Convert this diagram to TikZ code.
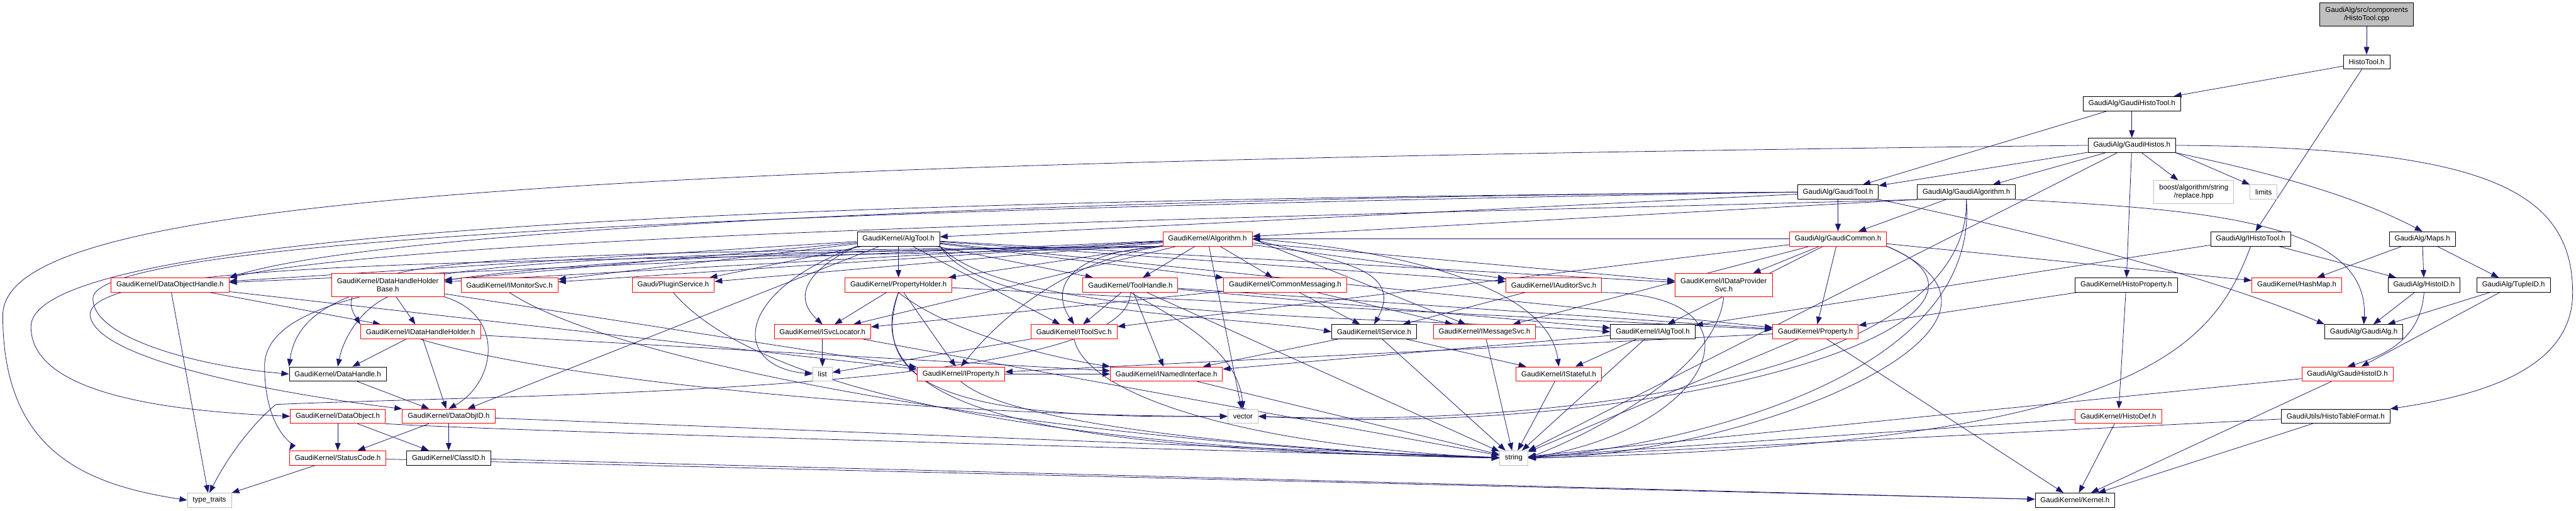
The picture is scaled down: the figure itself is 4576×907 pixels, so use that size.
\documentclass[tikz,border=0pt]{standalone}
\usepackage{fontspec}
\setmainfont{Liberation Sans}
\usetikzlibrary{arrows.meta,backgrounds}
\definecolor{edgec}{HTML}{191970}
\definecolor{sysgray}{HTML}{BFBFBF}
\definecolor{cutred}{HTML}{FF0000}
\tikzset{
  hdr/.style={draw=black, fill=white, line width=0.55pt, inner xsep=1.9mm,
              inner ysep=0.4mm, minimum height=5.1mm, align=center,
              font=\fontsize{7.3}{8.4}\selectfont},
  cuthdr/.style={hdr, draw=cutred},
  syshdr/.style={hdr, draw=sysgray},
  roothdr/.style={hdr, fill=sysgray},
  twoline/.style={minimum height=8.2mm},
  inc/.style={draw=edgec, line width=0.5pt, -{Triangle[length=2.7mm,width=2mm]}},
}

\begin{document}
\begin{tikzpicture}[x=0.2mm, y=-0.2mm]
\useasboundingbox (0,0) rectangle (4576,907);

\node[roothdr, twoline] (cpp) at (4204,26) {GaudiAlg/src/components\\/HistoTool.cpp};
\node[hdr] (htool) at (4204,110) {HistoTool.h};
\node[hdr] (ghtool) at (3787,184) {GaudiAlg/GaudiHistoTool.h};
\node[hdr] (ghistos) at (3787,258) {GaudiAlg/GaudiHistos.h};
\node[hdr] (gtool) at (3265,341) {GaudiAlg/GaudiTool.h};
\node[hdr] (galgo) at (3493,341) {GaudiAlg/GaudiAlgorithm.h};
\node[syshdr, twoline] (boost) at (3897,341) {boost/algorithm/string\\/replace.hpp};
\node[syshdr] (limits) at (4021,341) {limits};
\node[hdr] (algtool) at (1596,424) {GaudiKernel/AlgTool.h};
\node[cuthdr] (algorithm) at (2145,424) {GaudiKernel/Algorithm.h};
\node[cuthdr] (gcommon) at (3265,424) {GaudiAlg/GaudiCommon.h};
\node[hdr] (ihtool) at (3998,424) {GaudiAlg/IHistoTool.h};
\node[hdr] (maps) at (4303,424) {GaudiAlg/Maps.h};
\node[cuthdr] (doh) at (302,506) {GaudiKernel/DataObjectHandle.h};
\node[cuthdr, twoline] (dhhb) at (689,506) {GaudiKernel/DataHandleHolder\\Base.h};
\node[cuthdr] (imon) at (905,506) {GaudiKernel/IMonitorSvc.h};
\node[cuthdr] (plugin) at (1196,506) {Gaudi/PluginService.h};
\node[cuthdr] (pholder) at (1596,506) {GaudiKernel/PropertyHolder.h};
\node[cuthdr] (thandle) at (2008,506) {GaudiKernel/ToolHandle.h};
\node[cuthdr] (cmsg) at (2283,506) {GaudiKernel/CommonMessaging.h};
\node[cuthdr] (iaud) at (2760,506) {GaudiKernel/IAuditorSvc.h};
\node[cuthdr, twoline] (idp) at (3062,506) {GaudiKernel/IDataProvider\\Svc.h};
\node[hdr] (hprop) at (3777,506) {GaudiKernel/HistoProperty.h};
\node[cuthdr] (hashmap) at (4080,506) {GaudiKernel/HashMap.h};
\node[hdr] (histoid) at (4306,506) {GaudiAlg/HistoID.h};
\node[hdr] (tupleid) at (4465,506) {GaudiAlg/TupleID.h};
\node[cuthdr] (idhh) at (747,589) {GaudiKernel/IDataHandleHolder.h};
\node[cuthdr] (isvcloc) at (1461,589) {GaudiKernel/ISvcLocator.h};
\node[cuthdr] (itoolsvc) at (1908,589) {GaudiKernel/IToolSvc.h};
\node[hdr] (iservice) at (2441,589) {GaudiKernel/IService.h};
\node[cuthdr] (imsg) at (2637,589) {GaudiKernel/IMessageSvc.h};
\node[hdr] (ialgtool) at (2936,589) {GaudiKernel/IAlgTool.h};
\node[cuthdr] (prop) at (3225,589) {GaudiKernel/Property.h};
\node[hdr] (galg) at (4199,589) {GaudiAlg/GaudiAlg.h};
\node[hdr] (dhandle) at (600,664) {GaudiKernel/DataHandle.h};
\node[syshdr] (list) at (1461,664) {list};
\node[cuthdr] (iprop) at (1707,664) {GaudiKernel/IProperty.h};
\node[cuthdr] (iname) at (2072,664) {GaudiKernel/INamedInterface.h};
\node[cuthdr] (istate) at (2769,664) {GaudiKernel/IStateful.h};
\node[cuthdr] (ghid) at (4170,664) {GaudiAlg/GaudiHistoID.h};
\node[cuthdr] (dobj) at (600,739) {GaudiKernel/DataObject.h};
\node[cuthdr] (doid) at (797,739) {GaudiKernel/DataObjID.h};
\node[syshdr] (vector) at (2208,739) {vector};
\node[cuthdr] (hdef) at (3763,739) {GaudiKernel/HistoDef.h};
\node[hdr] (htf) at (4149,739) {GaudiUtils/HistoTableFormat.h};
\node[cuthdr] (sc) at (600,813) {GaudiKernel/StatusCode.h};
\node[hdr] (clid) at (797,813) {GaudiKernel/ClassID.h};
\node[syshdr] (string) at (2689,813) {string};
\node[syshdr] (ttraits) at (372,888) {type\_traits};
\node[hdr] (kernel) at (3686,888) {GaudiKernel/Kernel.h};

\coordinate (ttbend) at (5,560);
\coordinate (dobend) at (55,580);
\coordinate (dibend) at (160,560);
\coordinate (dhbend) at (165,530);
\coordinate (tfbend) at (4570,520);
\coordinate (scbend) at (470,650);
\coordinate (thbend) at (490,718);

\begin{scope}[on background layer]
\draw[inc] (cpp) -- (htool);
\draw[inc] (htool) -- (ghtool);
\draw[inc] (htool) -- (ihtool);
\draw[inc] (ghtool) -- (ghistos);
\draw[inc] (ghtool) -- (gtool);
\draw[inc] (ghistos) -- (gtool);
\draw[inc] (ghistos) -- (galgo);
\draw[inc] (ghistos) -- (boost);
\draw[inc] (ghistos.south east) -- (limits.north west);
\draw[inc] (ghistos.south east) .. controls (3950,290) and (4150,330) .. (maps.north);
\draw[inc] (ghistos) -- (hprop);
\draw[inc] (ghistos) -- (string);
\draw[inc] (ghistos.east) .. controls (4400,262) and (4570,330) .. (tfbend) .. controls (4570,650) and (4420,700) .. (htf.north east);
\draw[inc] (ghistos.west) .. controls (900,290) and (5,360) .. (ttbend) .. controls (5,800) and (150,860) .. (ttraits.west);

\draw[inc] (gtool) -- (algtool);
\draw[inc] (gtool) -- (gcommon);
\draw[inc] (gtool.west) .. controls (2000,350) and (700,400) .. (doh.north east);
\draw[inc] (gtool.west) .. controls (1500,355) and (55,400) .. (dobend) .. controls (55,700) and (300,730) .. (dobj.west);
\draw[inc] (gtool.west) .. controls (1500,370) and (165,420) .. (dhbend) .. controls (165,600) and (350,650) .. (dhandle.west);
\draw[inc] (gtool.south east) .. controls (3750,440) and (4000,520) .. (galg.north west);

\draw[inc] (galgo.south west) -- (algorithm);
\draw[inc] (galgo) -- (gcommon);
\draw[inc] (galgo.south west) .. controls (2500,380) and (800,410) .. (doh.north east);
\draw[inc] (galgo.south east) .. controls (3900,372) and (4210,390) .. (galg.north);
\draw[inc] (galgo.south) .. controls (3500,660) and (2800,760) .. (vector.east);
\draw[inc] (galgo.south) .. controls (3520,700) and (2900,800) .. (string.east);

\draw[inc] (gcommon) -- (algorithm);
\draw[inc] (gcommon) -- (idp);
\draw[inc] (gcommon) -- (prop);
\draw[inc] (gcommon) -- (hashmap);
\draw[inc] (gcommon) -- (itoolsvc);
\draw[inc] (gcommon) -- (imsg);
\draw[inc] (gcommon) -- (ialgtool);
\draw[inc] (gcommon.south east) .. controls (3650,560) and (3000,780) .. (vector.east);
\draw[inc] (gcommon.south east) .. controls (3680,580) and (3100,810) .. (string.east);

\draw[inc] (ihtool) -- (ialgtool);
\draw[inc] (ihtool) -- (histoid);
\draw[inc] (ihtool.south) .. controls (3930,620) and (3800,790) .. (string.east);
\draw[inc] (maps) -- (hashmap);
\draw[inc] (maps) -- (histoid);
\draw[inc] (maps) -- (tupleid);

\draw[inc] (algtool) -- (doh);
\draw[inc] (algtool) -- (dhhb);
\draw[inc] (algtool) -- (imon);
\draw[inc] (algtool) -- (plugin);
\draw[inc] (algtool) -- (pholder);
\draw[inc] (algtool) -- (thandle);
\draw[inc] (algtool) -- (cmsg);
\draw[inc] (algtool) -- (iaud);
\draw[inc] (algtool) -- (idp);
\draw[inc] (algtool) -- (itoolsvc);
\draw[inc] (algtool) -- (doid);
\draw[inc] (algtool) -- (prop);
\draw[inc] (algtool.south west) .. controls (1450,470) and (1400,520) .. (isvcloc.north);
\draw[inc] (algtool.south west) .. controls (1300,520) and (1300,650) .. (list.west);
\draw[inc] (algtool.south east) .. controls (1750,560) and (2200,560) .. (iservice.west);
\draw[inc] (algtool.south east) .. controls (1800,575) and (2500,560) .. (ialgtool.west);

\draw[inc] (algorithm) -- (doh);
\draw[inc] (algorithm) -- (dhhb);
\draw[inc] (algorithm) -- (imon);
\draw[inc] (algorithm) -- (plugin);
\draw[inc] (algorithm) -- (pholder);
\draw[inc] (algorithm) -- (thandle);
\draw[inc] (algorithm) -- (cmsg);
\draw[inc] (algorithm) -- (iaud);
\draw[inc] (algorithm) -- (idp);
\draw[inc] (algorithm) -- (isvcloc);
\draw[inc] (algorithm.east) -- (imsg);
\draw[inc] (algorithm) -- (vector);
\draw[inc] (algorithm.south west) .. controls (1880,450) and (1870,520) .. (itoolsvc.north);
\draw[inc] (algorithm.south west) .. controls (1900,460) and (1780,560) .. (iprop.north);
\draw[inc] (algorithm.east) .. controls (2350,462) and (2500,470) .. (iservice.north);
\draw[inc] (algorithm.east) .. controls (2450,440) and (2750,500) .. (istate.north);
\draw[inc] (algorithm.south west) .. controls (900,450) and (560,450) .. (idhh.north west);
\draw[inc] (algorithm.south west) .. controls (900,455) and (540,460) .. (dhandle.north west);
\draw[inc] (algorithm.south west) .. controls (1200,470) and (150,445) .. (dibend) .. controls (170,640) and (500,700) .. (doid.north west);
\draw[inc] (algorithm.south west) .. controls (900,450) and (470,500) .. (scbend) .. controls (470,760) and (520,790) .. (sc.north west);

\draw[inc] (pholder) -- (isvcloc);
\draw[inc] (pholder) -- (iprop);
\draw[inc] (pholder) -- (prop);
\draw[inc] (pholder.south) .. controls (1700,600) and (1900,640) .. (iname.north west);
\draw[inc] (pholder.south) .. controls (1540,690) and (1700,745) .. (vector.west);
\draw[inc] (pholder.south) .. controls (1500,760) and (2000,800) .. (string.west);

\draw[inc] (thandle) -- (itoolsvc);
\draw[inc] (thandle) -- (iname);
\draw[inc] (thandle) -- (ialgtool);
\draw[inc] (thandle) -- (string);
\draw[inc] (thandle) -- (prop);
\draw[inc] (thandle.south) .. controls (2080,560) and (2200,620) .. (vector.north);
\draw[inc] (thandle.south) .. controls (2010,700) and (900,700) .. (thbend) .. controls (440,760) and (400,820) .. (ttraits.north);

\draw[inc] (cmsg) -- (isvcloc);
\draw[inc] (cmsg) -- (iservice);
\draw[inc] (cmsg) -- (imsg);
\draw[inc] (iaud) -- (iservice);
\draw[inc] (iaud.south east) .. controls (3150,520) and (3050,760) .. (string.east);
\draw[inc] (idp.south) .. controls (3050,650) and (2850,760) .. (string.east);
\draw[inc] (hprop) -- (prop);
\draw[inc] (hprop) -- (hdef);
\draw[inc] (histoid) -- (galg);
\draw[inc] (histoid.south) .. controls (4300,600) and (4240,630) .. (ghid.north);
\draw[inc] (tupleid) -- (galg);
\draw[inc] (tupleid) -- (ghid);

\draw[inc] (doh) -- (idhh);
\draw[inc] (doh) -- (iprop);
\draw[inc] (doh) -- (ttraits);
\draw[inc] (dhhb) -- (idhh);
\draw[inc] (dhhb.south) .. controls (640,550) and (610,600) .. (dhandle.north);
\draw[inc] (dhhb) -- (iprop);
\draw[inc] (dhhb.south east) .. controls (900,560) and (880,680) .. (doid.north);
\draw[inc] (imon.south) .. controls (1100,650) and (1900,790) .. (string.west);
\draw[inc] (plugin.south) .. controls (1350,700) and (1900,800) .. (string.west);

\draw[inc] (idhh) -- (dhandle);
\draw[inc] (idhh) -- (doid);
\draw[inc] (idhh) -- (iname);
\draw[inc] (idhh.south) .. controls (1000,680) and (1700,740) .. (vector.west);
\draw[inc] (isvcloc) -- (list);
\draw[inc] (isvcloc) -- (string);
\draw[inc] (itoolsvc) -- (list);
\draw[inc] (itoolsvc.south) .. controls (1930,700) and (2200,790) .. (string.west);
\draw[inc] (iservice) -- (istate);
\draw[inc] (iservice) -- (string);
\draw[inc] (iservice) -- (iname);
\draw[inc] (imsg) -- (string);
\draw[inc] (ialgtool) -- (istate);
\draw[inc] (ialgtool) -- (string);
\draw[inc] (ialgtool) -- (iname);
\draw[inc] (prop) -- (kernel);
\draw[inc] (prop) -- (string);
\draw[inc] (prop) -- (iprop);

\draw[inc] (dhandle) -- (doid);
\draw[inc] (iprop) -- (iname);
\draw[inc] (iprop.south) .. controls (1800,760) and (2300,800) .. (string.west);
\draw[inc] (iname) -- (string);
\draw[inc] (istate) -- (string);
\draw[inc] (ghid) -- (string);
\draw[inc] (ghid) -- (kernel);
\draw[inc] (dobj) -- (sc);
\draw[inc] (dobj) -- (clid);
\draw[inc] (dobj.south east) .. controls (900,765) and (1800,790) .. (string.west);
\draw[inc] (doid) -- (sc);
\draw[inc] (doid) -- (clid);
\draw[inc] (doid) -- (string);
\draw[inc] (hdef) -- (kernel);
\draw[inc] (hdef) -- (string);
\draw[inc] (htf) -- (kernel);
\draw[inc] (htf) -- (string);
\draw[inc] (sc) -- (ttraits);
\draw[inc] (sc) -- (kernel);
\draw[inc] (clid) -- (kernel);
\end{scope}
\end{tikzpicture}
\end{document}
